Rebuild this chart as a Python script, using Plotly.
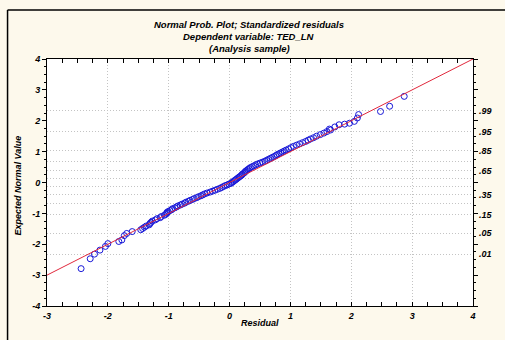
import plotly.graph_objects as go

# Residuals (x) and expected normal values (y)
residual = [
    -2.44, -2.29, -2.22, -2.13, -2.04, -2.00, -1.82, -1.77, -1.73, -1.69, -1.60, -1.46,
    -1.43, -1.40, -1.37, -1.32, -1.31, -1.29, -1.27, -1.22, -1.19, -1.14, -1.12, -1.07,
    -1.05, -1.03, -1.03, -1.01, -0.98, -0.95, -0.94, -0.90, -0.87, -0.85, -0.81, -0.78,
    -0.74, -0.72, -0.68, -0.65, -0.61, -0.58, -0.54, -0.51, -0.47, -0.44, -0.41, -0.37,
    -0.32, -0.28, -0.24, -0.20, -0.16, -0.13, -0.10, -0.07, -0.04, -0.01, 0.02, 0.04,
    0.06, 0.08, 0.10, 0.12, 0.14, 0.16, 0.18, 0.20, 0.21, 0.23, 0.25, 0.26,
    0.28, 0.30, 0.32, 0.34, 0.37, 0.40, 0.43, 0.46, 0.50, 0.54, 0.58, 0.61,
    0.64, 0.67, 0.70, 0.73, 0.76, 0.78, 0.81, 0.84, 0.87, 0.90, 0.93, 0.97,
    1.01, 1.05, 1.10, 1.15, 1.20, 1.25, 1.29, 1.33, 1.38, 1.43, 1.49, 1.55,
    1.60, 1.66, 1.64, 1.73, 1.80, 1.89, 1.97, 2.05, 2.10, 2.12, 2.48, 2.63, 2.87,
]
expected = [
    -2.79, -2.47, -2.32, -2.19, -2.07, -1.98, -1.91, -1.86, -1.72, -1.65, -1.59, -1.53,
    -1.49, -1.45, -1.41, -1.37, -1.33, -1.29, -1.25, -1.21, -1.17, -1.14, -1.10, -1.06,
    -1.03, -1.00, -0.97, -0.94, -0.91, -0.88, -0.85, -0.82, -0.79, -0.76, -0.73, -0.70,
    -0.67, -0.64, -0.61, -0.58, -0.55, -0.52, -0.49, -0.46, -0.43, -0.40, -0.37, -0.34,
    -0.31, -0.28, -0.25, -0.22, -0.19, -0.16, -0.13, -0.10, -0.08, -0.05, -0.03, 0.00,
    0.03, 0.06, 0.09, 0.12, 0.15, 0.18, 0.21, 0.24, 0.27, 0.30, 0.33, 0.36,
    0.39, 0.42, 0.45, 0.48, 0.51, 0.54, 0.57, 0.60, 0.63, 0.66, 0.69, 0.72,
    0.75, 0.78, 0.81, 0.84, 0.87, 0.90, 0.93, 0.96, 0.99, 1.02, 1.05, 1.09,
    1.13, 1.17, 1.21, 1.25, 1.29, 1.33, 1.37, 1.41, 1.45, 1.50, 1.55, 1.60,
    1.65, 1.70, 1.73, 1.80, 1.87, 1.89, 1.92, 1.98, 2.09, 2.20, 2.30, 2.47, 2.79,
]

fit_x = [-3, 4]
fit_y = [-3, 4]

x_ticks = [-3, -2, -1, 0, 1, 2, 3, 4]
y_ticks = [-4, -3, -2, -1, 0, 1, 2, 3, 4]
prob_vals = [2.326, 1.645, 1.036, 0.674, 0.385, 0.126, -0.126, -0.385, -0.674, -1.036, -1.645, -2.326]
prob_text = [".99", ".95", ".85", "", ".65", "", "", ".35", "", ".15", ".05", ".01"]

title_lines = ["Normal Prob. Plot; Standardized residuals",
               "Dependent variable: TED_LN",
               "(Analysis sample)"]

FAM = "Liberation Sans, Arial, sans-serif"
fnt = dict(family=FAM, size=9, color="black", weight="bold", style="italic")
CREAM = "#FDF9EC"
GRID = "#C4C4C4"
DASH = "1px,2px"

fig = go.Figure()
fig.add_trace(go.Scatter(
    x=residual, y=expected, mode="markers",
    marker=dict(symbol="circle-open", size=6, color="#1818D8", line=dict(width=1, color="#1818D8")),
    showlegend=False, hoverinfo="skip"))
fig.add_trace(go.Scatter(
    x=fit_x, y=fit_y, mode="lines",
    line=dict(color="#E0283C", width=1), showlegend=False, hoverinfo="skip"))
# invisible trace to activate right axis
fig.add_trace(go.Scatter(x=[None], y=[None], yaxis="y2", showlegend=False, hoverinfo="skip"))

fig.update_layout(
    width=505, height=340,
    margin=dict(l=47, r=26, t=59, b=34),
    paper_bgcolor=CREAM, plot_bgcolor="white",
    xaxis=dict(range=[-3, 4], tickvals=x_ticks, ticktext=[str(v) for v in x_ticks],
               showline=True, linecolor="black", linewidth=1, mirror="allticks",
               ticks="inside", ticklen=4, tickcolor="black",
               minor=dict(tick0=-3, dtick=0.25, ticks="inside", ticklen=2, tickcolor="black", showgrid=False),
               showgrid=True, gridcolor=GRID, griddash=DASH, gridwidth=1,
               zeroline=False, tickfont=fnt, ticklabelstandoff=1),
    yaxis=dict(range=[-4, 4], tickvals=y_ticks, ticktext=[str(v) for v in y_ticks],
               showline=True, linecolor="black", linewidth=1, mirror="allticks",
               ticks="outside", ticklen=4, tickcolor="black",
               minor=dict(tick0=-4, dtick=0.25, ticks="outside", ticklen=2, tickcolor="black", showgrid=False),
               showgrid=False, zeroline=False, tickfont=fnt),
    yaxis2=dict(range=[-4, 4], overlaying="y", side="right", tickvals=prob_vals, ticktext=prob_text,
                showgrid=True, gridcolor=GRID, griddash=DASH, gridwidth=1,
                ticks="", showline=False, zeroline=False, tickfont=fnt, ticklabelstandoff=5),
)

ann = []
for i, (t, yp) in enumerate(zip(title_lines, [1.1417, 1.093, 1.0445])):
    ann.append(dict(text=t, x=0.475, y=yp, xref="paper", yref="paper", showarrow=False,
                    xanchor="center", yanchor="middle",
                    font=dict(family=FAM, size=9.5, color="black", weight="bold", style="italic")))
ann.append(dict(text="Residual", x=0.5, y=-0.068, xref="paper", yref="paper", showarrow=False,
                xanchor="center", yanchor="middle", font=fnt))
ann.append(dict(text="Expected Normal Value", x=-0.069, y=0.486, xref="paper", yref="paper",
                showarrow=False, textangle=-90, xanchor="center", yanchor="middle", font=fnt))
fig.update_layout(annotations=ann)

fig.update_layout(shapes=[
    dict(type="line", xref="paper", yref="paper", x0=-0.0926, x1=-0.0926, y0=1.198, y1=-0.3,
         line=dict(color="black", width=1.5)),
    dict(type="line", xref="paper", yref="paper", x0=-0.0926, x1=1.2, y0=1.198, y1=1.198,
         line=dict(color="black", width=1.5)),
])

fig.write_html("out.html")
